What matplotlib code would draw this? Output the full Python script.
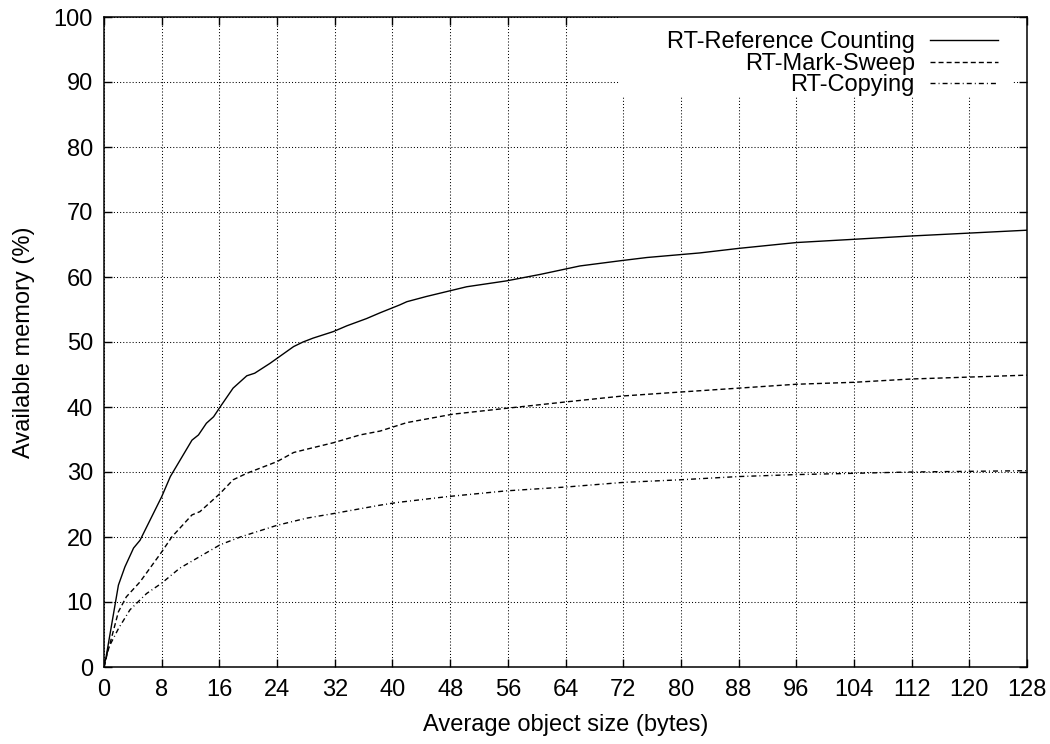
import matplotlib
matplotlib.use("Agg")
import matplotlib.pyplot as plt
from matplotlib.patches import Rectangle

plt.rcParams["font.family"] = ["Liberation Sans", "DejaVu Sans"]

# Werte
x_rc = [0, 0.3, 2, 2.9, 4.1, 5, 8, 9.2, 12.2, 13.1, 14.2, 15.2, 16.1, 17.9, 19.8, 20.9,
        23, 26.3, 27.6, 29, 31.8, 33.7, 36.4, 38.3, 41, 42, 44.7, 50.3, 55.8, 60.5,
        66, 71.6, 75.3, 82.6, 88, 96, 104, 111.8, 128]
y_rc = [0, 1.6, 12.6, 15.4, 18.3, 19.5, 26.2, 29.3, 34.9, 35.7, 37.5, 38.5, 40.0, 42.9,
        44.8, 45.2, 46.7, 49.3, 50.0, 50.6, 51.6, 52.5, 53.6, 54.5, 55.7, 56.2, 57.0,
        58.5, 59.4, 60.4, 61.7, 62.5, 63.0, 63.7, 64.4, 65.3, 65.8, 66.3, 67.2]

x_ms = [0, 0.4, 2, 3.1, 5, 8, 9.4, 12.2, 13.3, 16.1, 17.9, 19.8, 24, 26.3, 28.1, 31.8,
        35.5, 38.3, 42, 48.4, 55.8, 64.2, 72, 79.9, 88, 96, 104, 111.8, 128]
y_ms = [0, 1.8, 8.5, 10.8, 13.1, 17.7, 20.0, 23.4, 23.9, 26.7, 28.8, 29.8, 31.6, 33.0,
        33.5, 34.5, 35.7, 36.3, 37.6, 38.9, 39.8, 40.8, 41.7, 42.3, 42.9, 43.5, 43.8,
        44.3, 44.9]

x_cp = [0, 0.6, 2, 3.6, 5.9, 8, 10.5, 13.3, 16.1, 18.9, 24, 28.1, 31.8, 38.3, 40.6,
        47.5, 55.8, 64.2, 72, 79.9, 88, 96, 104, 111.8, 128]
y_cp = [0, 2.9, 5.9, 8.8, 11.3, 12.9, 15.2, 17.0, 18.8, 20.0, 21.8, 22.9, 23.6, 24.9,
        25.3, 26.2, 27.1, 27.7, 28.4, 28.8, 29.3, 29.6, 29.8, 30.0, 30.2]

labels = ["RT-Reference Counting", "RT-Mark-Sweep", "RT-Copying"]
x_ticks = list(range(0, 129, 8))
y_ticks = list(range(0, 101, 10))

fig = plt.figure(figsize=(10.5, 7.44), dpi=100)
ax = fig.add_axes([104 / 1050, 1 - 667 / 744, 923 / 1050, 650 / 744])

ax.plot(x_rc, y_rc, color="black", lw=1.0, label=labels[0], zorder=3)
ax.plot(x_ms, y_ms, color="black", lw=1.0, linestyle=(0, (3.6, 2.2)), label=labels[1], zorder=3)
ax.plot(x_cp, y_cp, color="black", lw=1.0, linestyle=(0, (3.6, 2.2, 0.7, 2.2)),
        label=labels[2], zorder=3)

ax.set_xlim(0, 128)
ax.set_ylim(0, 100)
ax.set_xticks(x_ticks)
ax.set_yticks(y_ticks)
ax.set_axisbelow(True)
ax.grid(True, color="black", lw=0.75, linestyle=(0, (1, 2)))

ax.tick_params(direction="in", length=5.8, width=1.0, top=True, right=True,
               labelsize=17, pad=8)
ax.tick_params(axis="x", pad=9)
for s in ax.spines.values():
    s.set_linewidth(1.1)

ax.set_xlabel("Average object size (bytes)", fontsize=17, labelpad=9)
ax.set_ylabel("Available memory (%)", fontsize=17, labelpad=13)

# weisser Bereich hinter der Legende (verdeckt das Gitter)
ax.add_patch(Rectangle((0.559, 0.877), 0.426, 0.123, transform=ax.transAxes,
                       facecolor="white", edgecolor="none", zorder=1))

leg = ax.legend(loc="upper right", bbox_to_anchor=(0.9686, 0.978), frameon=False,
                markerfirst=False, fontsize=17, borderaxespad=0, borderpad=0,
                handlelength=2.9, handletextpad=0.62, labelspacing=-0.02)

fig.savefig("out.png", dpi=100)
